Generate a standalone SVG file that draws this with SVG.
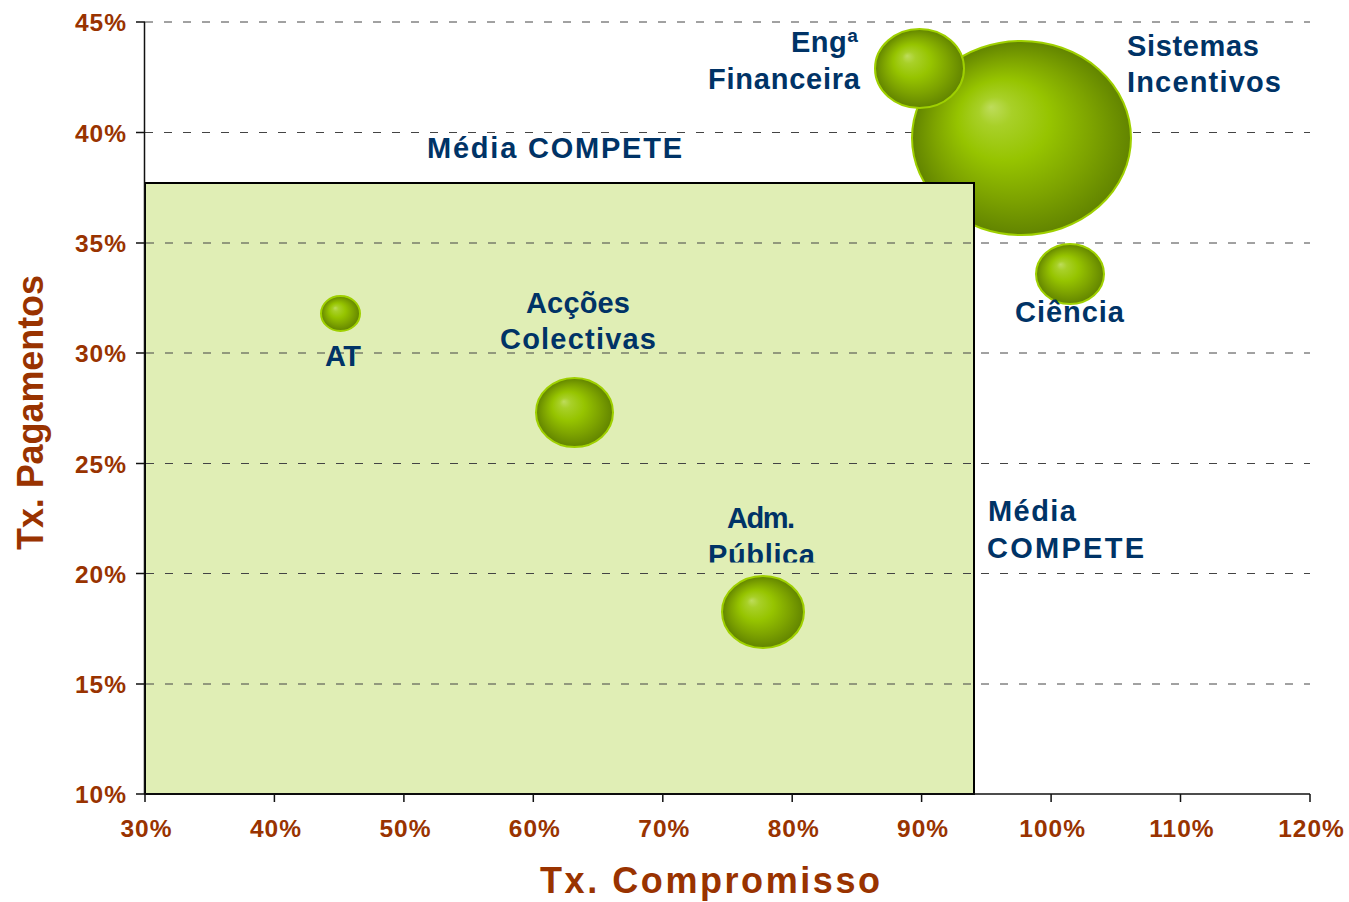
<svg xmlns="http://www.w3.org/2000/svg" width="1349" height="902" viewBox="0 0 1349 902">
<style>
.tick{font-family:"Liberation Sans",Arial,sans-serif;font-weight:bold;font-size:24.5px;fill:#993300;letter-spacing:1px}
.title{font-family:"Liberation Sans",Arial,sans-serif;font-weight:bold;font-size:36px;fill:#993300}
.lbl{font-family:"Liberation Sans",Arial,sans-serif;font-weight:bold;font-size:29px;fill:#003366}
.grid{stroke:#444;stroke-width:1;stroke-dasharray:8 11;fill:none}
.axis{stroke:#111;stroke-width:1.5;fill:none}
.bub{fill:url(#bg);stroke:#9FD000;stroke-width:2}
</style>
<defs>
<radialGradient id="bg" cx="0.5" cy="0.5" r="0.5" fx="0.36" fy="0.34">
<stop offset="0" stop-color="#BEDC5C"/>
<stop offset="0.15" stop-color="#A8D028"/>
<stop offset="0.42" stop-color="#96C400"/>
<stop offset="0.72" stop-color="#7DA300"/>
<stop offset="1" stop-color="#628400"/>
</radialGradient>
<clipPath id="pubclip"><rect x="690" y="480" width="150" height="82.5"/></clipPath>
</defs>
<rect width="1349" height="902" fill="#fff"/>
<g id="gridlines">
<line class="grid" x1="145" y1="22" x2="1310" y2="22"/>
<line class="grid" x1="145" y1="132.5" x2="1310" y2="132.5"/>
<line class="grid" x1="145" y1="243" x2="1310" y2="243"/>
<line class="grid" x1="145" y1="353" x2="1310" y2="353"/>
<line class="grid" x1="145" y1="463.5" x2="1310" y2="463.5"/>
<line class="grid" x1="145" y1="573.5" x2="1310" y2="573.5"/>
<line class="grid" x1="145" y1="684" x2="1310" y2="684"/>
</g>
<g id="node-sistemas">
<ellipse class="bub" cx="1021.5" cy="138" rx="109.5" ry="97"/>
</g>
<rect id="media-box" x="145" y="183" width="829" height="611" fill="#E0EEB5" stroke="#000" stroke-width="2"/>
<g id="gridlines-box">
<line class="grid" x1="146" y1="243" x2="973" y2="243" stroke="#666"/>
<line class="grid" x1="146" y1="353" x2="973" y2="353"/>
<line class="grid" x1="146" y1="463.5" x2="973" y2="463.5"/>
<line class="grid" x1="146" y1="573.5" x2="973" y2="573.5"/>
<line class="grid" x1="146" y1="684" x2="973" y2="684"/>
</g>
<g id="axes">
<line class="axis" x1="144.5" y1="22" x2="144.5" y2="794"/>
<line class="axis" x1="144" y1="794" x2="1310" y2="794"/>
<path class="axis" d="M136 22H145M136 132.5H145M136 243H145M136 353H145M136 463.5H145M136 573.5H145M136 684H145M136 794H145"/>
<path class="axis" d="M145 794V802M274.4 794V802M403.9 794V802M533.3 794V802M662.8 794V802M792.2 794V802M921.6 794V802M1051.1 794V802M1180.5 794V802M1310 794V802"/>
</g>
<g id="y-labels" text-anchor="end">
<text class="tick" x="127" y="31">45%</text>
<text class="tick" x="127" y="141.5">40%</text>
<text class="tick" x="127" y="252">35%</text>
<text class="tick" x="127" y="362">30%</text>
<text class="tick" x="127" y="472.5">25%</text>
<text class="tick" x="127" y="582.5">20%</text>
<text class="tick" x="127" y="693">15%</text>
<text class="tick" x="127" y="803">10%</text>
</g>
<g id="x-labels" text-anchor="middle">
<text class="tick" x="146.5" y="837">30%</text>
<text class="tick" x="275.9" y="837">40%</text>
<text class="tick" x="405.4" y="837">50%</text>
<text class="tick" x="534.8" y="837">60%</text>
<text class="tick" x="664.3" y="837">70%</text>
<text class="tick" x="793.7" y="837">80%</text>
<text class="tick" x="923.1" y="837">90%</text>
<text class="tick" x="1052.6" y="837">100%</text>
<text class="tick" x="1182" y="837">110%</text>
<text class="tick" x="1311.5" y="837">120%</text>
</g>
<text class="title" x="540" y="893" textLength="340">Tx. Compromisso</text>
<text class="title" transform="translate(43 412.5) rotate(-90)" text-anchor="middle" textLength="275">Tx. Pagamentos</text>
<g id="node-sistemas-label">
<text class="lbl" x="1127" y="56" textLength="132">Sistemas</text>
<text class="lbl" x="1127" y="92" textLength="154">Incentivos</text>
</g>
<g id="node-enga">
<ellipse class="bub" cx="919.5" cy="68.5" rx="44.5" ry="39.5"/>
<text class="lbl" x="791" y="52" textLength="67">Engª</text>
<text class="lbl" x="708" y="89" textLength="152">Financeira</text>
</g>
<g id="node-ciencia">
<ellipse class="bub" cx="1070" cy="274" rx="34" ry="30"/>
<text class="lbl" x="1015" y="322" textLength="109">Ciência</text>
</g>
<g id="node-at">
<ellipse class="bub" cx="340.5" cy="313.5" rx="19.5" ry="17.5"/>
<text class="lbl" x="325" y="366" textLength="36">AT</text>
</g>
<g id="node-accoes">
<ellipse class="bub" cx="574.5" cy="412.5" rx="38.5" ry="34.5"/>
<text class="lbl" x="526" y="313" textLength="104">Acções</text>
<text class="lbl" x="500" y="349" textLength="156">Colectivas</text>
</g>
<g id="node-adm">
<ellipse class="bub" cx="763" cy="612" rx="41" ry="36"/>
<text class="lbl" x="727" y="528" textLength="68">Adm.</text>
<text class="lbl" x="708" y="565" textLength="107" clip-path="url(#pubclip)">Pública</text>
</g>
<g id="media-labels">
<text class="lbl" x="427" y="158" textLength="255">Média COMPETE</text>
<text class="lbl" x="988" y="521" textLength="88">Média</text>
<text class="lbl" x="987" y="558" textLength="157">COMPETE</text>
</g>
</svg>
